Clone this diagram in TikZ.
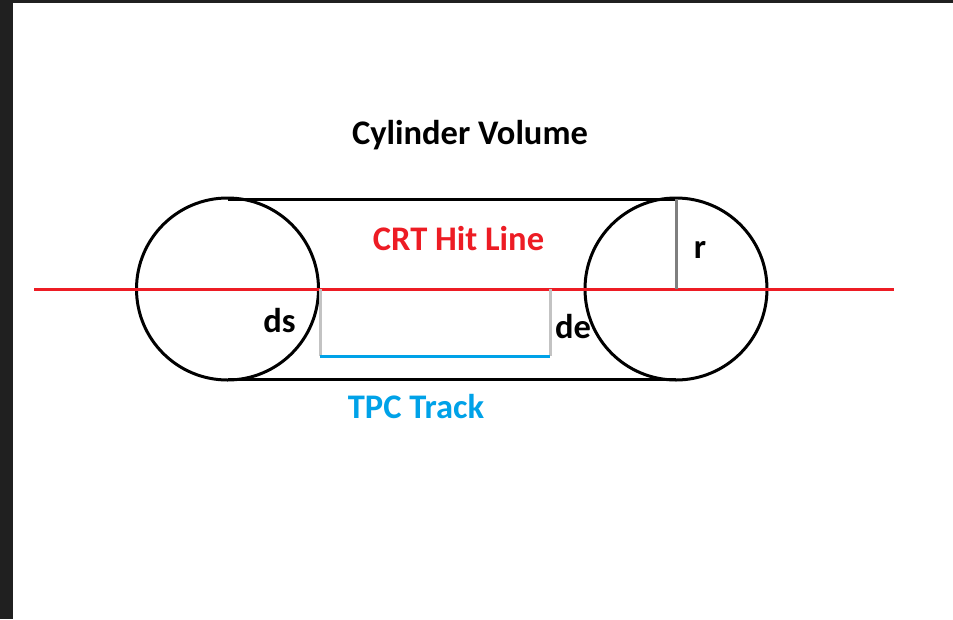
\documentclass[tikz,border=0pt]{standalone}
\usepackage{fontspec}
\setmainfont{Carlito}
\usepackage{tikz}

\definecolor{hitred}{HTML}{ED1C24}
\definecolor{trackblue}{HTML}{00A2E8}
\definecolor{radgray}{HTML}{7F7F7F}
\definecolor{distgray}{HTML}{C3C3C3}
\definecolor{framedark}{HTML}{202020}

\begin{document}
\begin{tikzpicture}[x=1pt, y=-1pt, line width=3pt,
  lbl/.style={font=\fontsize{34.5}{41}\selectfont\bfseries, anchor=base, inner sep=0pt}]
  \useasboundingbox (0,0) rectangle (953,619);
  % Rahmen
  \fill[framedark] (0,0) rectangle (953,619);
  \fill[white] (13,3) rectangle (953,619);

  % Zylinder (zwei Kreise + Mantellinien)
  \coordinate (cs) at (227.5,289);
  \coordinate (ce) at (676,289);
  \draw (cs) circle (91);
  \draw (ce) circle (91);
  \draw (cs) ++(0,-90) -- ([yshift=90pt]ce);
  \draw (cs) ++(0,90) -- ([yshift=-90pt]ce);

  % CRT Hit Linie
  \draw[hitred] (34,289) -- (894,289);

  % Radius
  \draw[radgray] (ce) -- ++(0,-90);

  % Abstaende ds, de und TPC Spur
  \draw[distgray] (320,289) -- (320,356);
  \draw[distgray] (550,289) -- (550,356);
  \draw[trackblue] (320,356) -- (550,356);

  % Beschriftungen
  \node[lbl] (title) at (470,144) {Cylinder Volume};
  \node[lbl, hitred] (hit) at (458.5,250) {CRT Hit Line};
  \node[lbl, trackblue] (track) at (416,418) {TPC Track};
  \node[lbl] (ds) at (279.5,332) {ds};
  \node[lbl] (de) at (573,338) {de};
  \node[lbl] (r) at (700,258) {r};
\end{tikzpicture}
\end{document}
